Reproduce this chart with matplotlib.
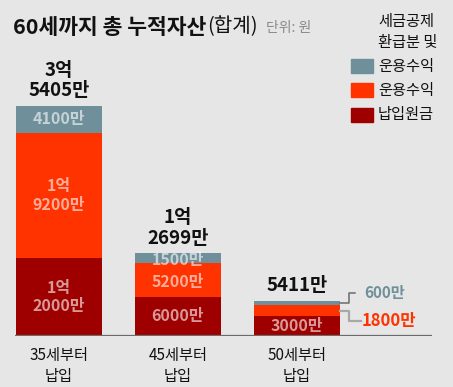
import matplotlib
matplotlib.use("Agg")
import matplotlib.pyplot as plt

plt.rcParams['font.family'] = ['Noto Sans CJK KR', 'DejaVu Sans']

categories = ["35세부터\n납입", "45세부터\n납입", "50세부터\n납입"]
principal = [12000, 6000, 3000]      # 납입원금 (만원)
returns = [19200, 5200, 1800]        # 운용수익
tax_refund = [4100, 1500, 600]       # 세금공제 환급분 및 운용수익
totals = ["3억\n5405만", "1억\n2699만", "5411만"]

C_GRAY = "#6F909B"
C_RED = "#FF3300"
C_DARK = "#9E0000"
BG = "#E6E6E6"

W, H = 453, 387
fig = plt.figure(figsize=(W / 100, H / 100), dpi=100, facecolor=BG)

def fx(px):
    return px / W

def fy(py):
    return 1 - py / H

# axes: x px 15..432, baseline y=336, top y=60
ax = fig.add_axes([fx(15), fy(336), (432 - 15) / W, (336 - 60) / H])
ax.set_facecolor(BG)
ymax = 276 / 230 * 35300
ax.set_ylim(0, ymax)
ax.set_xlim(-44 / 119, 373 / 119)
for s in ax.spines.values():
    s.set_visible(False)
ax.set_xticks([])
ax.set_yticks([])
ax.axhline(0, color="#6b6b6b", lw=1.6, zorder=5)

x = list(range(len(categories)))
bw = 86 / 119
ax.bar(x, principal, width=bw, color=C_DARK, zorder=3)
ax.bar(x, returns, width=bw, bottom=principal, color=C_RED, zorder=3)
bot2 = [p + r for p, r in zip(principal, returns)]
ax.bar(x, tax_refund, width=bw, bottom=bot2, color=C_GRAY, zorder=3)

def fmt(v):
    if v >= 10000:
        return f"{v // 10000}억\n{v % 10000}만"
    return f"{v}만"

lab_kw = dict(ha="center", va="center", fontsize=11.5, color="white",
              fontweight="bold", alpha=0.6, zorder=6, linespacing=1.2)
for i in range(len(x)):
    ax.text(x[i], principal[i] / 2, fmt(principal[i]), **lab_kw)
    if i < 2:
        ax.text(x[i], principal[i] + returns[i] / 2 - (300 if i == 1 else 0),
                fmt(returns[i]), **lab_kw)
        ax.text(x[i], bot2[i] + tax_refund[i] / 2 - (250 if i == 1 else 0),
                fmt(tax_refund[i]), **lab_kw)
    top = bot2[i] + tax_refund[i]
    ax.annotate(totals[i], (x[i], top), xytext=(0, 4), textcoords="offset points",
                ha="center", va="bottom", fontsize=13.5, fontweight="bold",
                color="#111111", linespacing=1.1)

# leader lines for third bar
xr = 2 + bw / 2
xm = xr + 9 / 119
y_g = bot2[2] + tax_refund[2] / 2
y_r = principal[2] + returns[2] / 2
y_g2 = y_g + 10 * ymax / 276
y_r2 = y_r - 10 * ymax / 276
ax.plot([xr, xm, xm, xm + 6 / 119], [y_g, y_g, y_g2, y_g2], color="#6b6b6b", lw=1.1,
        clip_on=False, zorder=4)
ax.plot([xr, xm, xm, xm + 12 / 119], [y_r, y_r, y_r2, y_r2], color="#a8a8a8", lw=1.6,
        clip_on=False, zorder=4)
ax.text(xm + 15 / 119, y_g2, fmt(tax_refund[2]), ha="left", va="center",
        fontsize=11, fontweight="bold", color=C_GRAY)
ax.text(xm + 13 / 119, y_r2, fmt(returns[2]), ha="left", va="center",
        fontsize=12, fontweight="bold", color=C_RED)

# category labels
for i, c in enumerate(categories):
    ax.text(x[i], -(347 - 336) * ymax / 276, c, ha="center", va="top",
            fontsize=11, color="#111111", linespacing=1.3)

# title
t1 = fig.text(fx(13), fy(27), "60세까지 총 누적자산", ha="left", va="center",
              fontsize=15.5, fontweight="heavy", color="#111111")
fig.canvas.draw()
bb = t1.get_window_extent()
fig.text(bb.x1 / W + 1 / W, fy(27), "(합계)", ha="left", va="center",
         fontsize=14.5, color="#111111")
fig.text(fx(266), fy(28), "단위: 원", ha="left", va="center",
         fontsize=10, color="#8a8a8a")

# legend
fig.text(fx(378), fy(32), "세금공제\n환급분 및", ha="left", va="center",
         fontsize=11, color="#111111", linespacing=1.3)
leg = [(C_GRAY, "운용수익", 66), (C_RED, "운용수익", 90), (C_DARK, "납입원금", 115)]
for col, txt, cy in leg:
    fig.patches.append(plt.Rectangle((fx(351), fy(cy + 7)), 22 / W, 14 / H,
                                     transform=fig.transFigure, color=col))
    fig.text(fx(378), fy(cy), txt, ha="left", va="center", fontsize=11,
             color="#111111")

fig.savefig("out.png", dpi=100, facecolor=BG)
